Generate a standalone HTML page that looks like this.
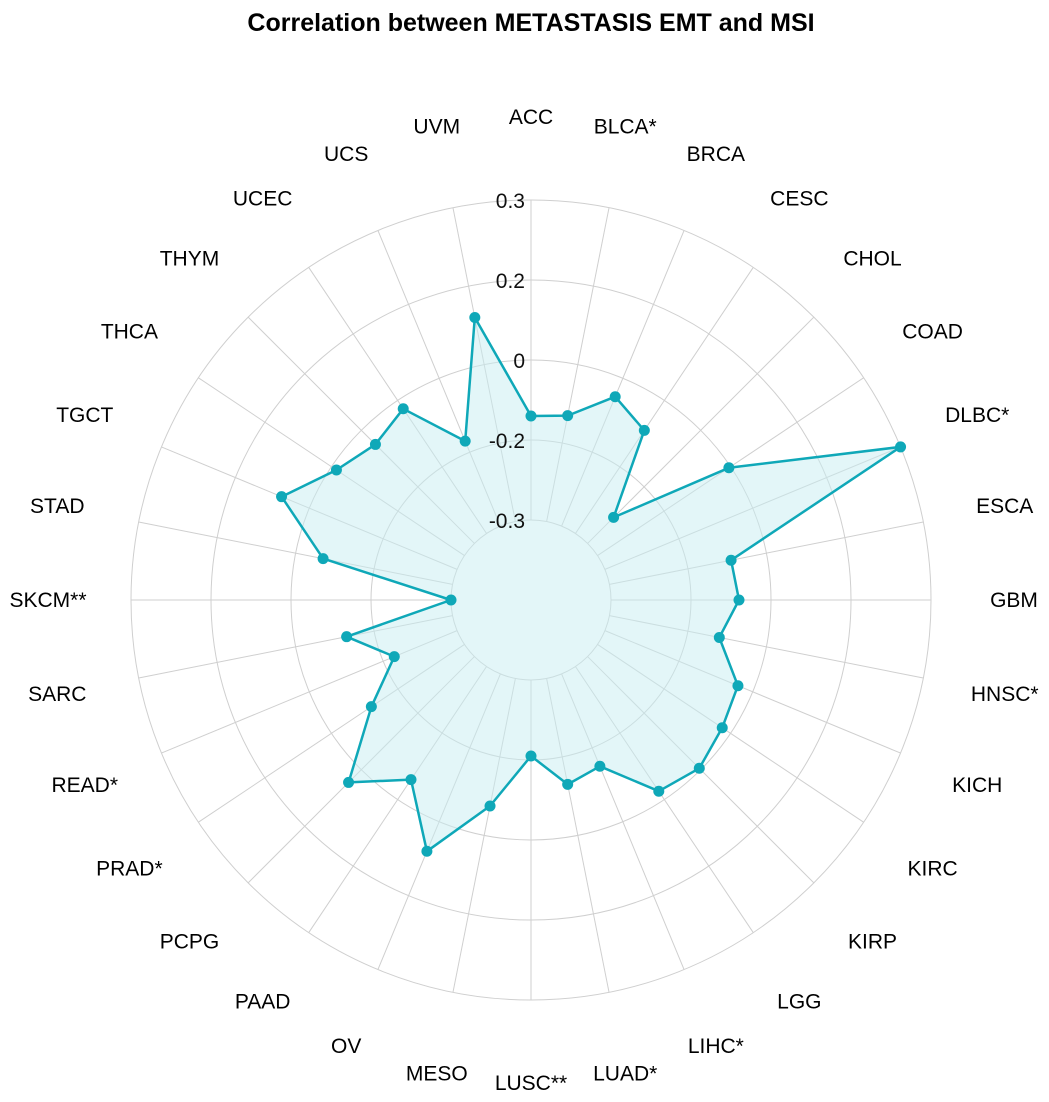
<!DOCTYPE html>
<html><head><meta charset="utf-8"><style>
body{margin:0;background:#fff;}
svg{display:block;font-family:"Liberation Sans",Arial,sans-serif;}
</style></head><body>
<svg id="chart" width="1049" height="1102" viewBox="0 0 1049 1102">
<text x="531" y="31" text-anchor="middle" font-size="25" font-weight="bold">Correlation between METASTASIS EMT and MSI</text>
<g id="grid"></g><g id="series"></g><g id="labels"></g><g id="ticks"></g>
</svg>
<script>
const categories=["ACC","BLCA*","BRCA","CESC","CHOL","COAD","DLBC*","ESCA","GBM","HNSC*","KICH","KIRC","KIRP","LGG","LIHC*","LUAD*","LUSC**","MESO","OV","PAAD","PCPG","PRAD*","READ*","SARC","SKCM**","STAD","TGCT","THCA","THYM","UCEC","UCS","UVM"];
const values=[-0.14,-0.13,-0.05,-0.09,-0.254,-0.005,0.30,-0.09,-0.08,-0.12,-0.04,-0.025,-0.005,-0.025,-0.15,-0.13,-0.205,-0.075,0.08,-0.06,0.045,-0.12,-0.215,-0.13,-0.3,-0.07,0.075,-0.015,-0.05,-0.025,-0.17,0.12];
const tickValues=[-0.3,-0.2,0,0.2,0.3];
const tickLabels=["-0.3","-0.2","0","0.2","0.3"];
const cx=531,cy=600;
const tickRadii=[80,160,240,320,400];
function rScale(v){
  if(v<=tickValues[0]) return tickRadii[0]+(v-tickValues[0])/(tickValues[1]-tickValues[0])*(tickRadii[1]-tickRadii[0]);
  for(let i=0;i<tickValues.length-1;i++){
    if(v<=tickValues[i+1]) return tickRadii[i]+(v-tickValues[i])/(tickValues[i+1]-tickValues[i])*(tickRadii[i+1]-tickRadii[i]);
  }
  const n=tickValues.length-1;
  return tickRadii[n]+(v-tickValues[n])/(tickValues[n]-tickValues[n-1])*(tickRadii[n]-tickRadii[n-1]);
}
function ang(i){return i/categories.length*2*Math.PI;}
function pt(i,r){return [cx+r*Math.sin(ang(i)),cy-r*Math.cos(ang(i))];}
const NS="http://www.w3.org/2000/svg";
function mk(tag,attrs,parent){const e=document.createElementNS(NS,tag);for(const k in attrs)e.setAttribute(k,attrs[k]);parent.appendChild(e);return e;}
const grid=document.getElementById('grid');
tickValues.forEach((t,k)=>{
  const c=mk('circle',{cx:cx,cy:cy,r:rScale(t),fill:'none',stroke:'#cfcfcf','stroke-width':1},grid);
  
  
});
categories.forEach((c,i)=>{
  const a=pt(i,rScale(tickValues[0])),b=pt(i,rScale(tickValues[tickValues.length-1]));
  const l=mk('line',{x1:a[0],y1:a[1],x2:b[0],y2:b[1],stroke:'#cfcfcf','stroke-width':1},grid);
  
  
  const p=pt(i,483);
  const t=mk('text',{x:p[0],y:p[1]+7,'text-anchor':'middle','font-size':21,fill:'#000'},document.getElementById('labels'));
  t.textContent=c;
  
  
});
const ser=document.getElementById('series');
const pts=values.map((v,i)=>pt(i,rScale(v)));
const d=pts.map(p=>p[0].toFixed(1)+','+p[1].toFixed(1)).join(' ');
const area=mk('polygon',{points:d,fill:'#c8eef2','fill-opacity':0.5,stroke:'none'},ser);


const line=mk('polygon',{points:d,fill:'none',stroke:'#0fa8b8','stroke-width':2.5,'stroke-linejoin':'round'},ser);


pts.forEach(p=>{
  const c=mk('circle',{cx:p[0],cy:p[1],r:5.5,fill:'#0fa8b8'},ser);
  
  
});
const tk=document.getElementById('ticks');
tickValues.forEach((t,k)=>{
  const e=mk('text',{x:525,y:cy-rScale(t)+8,'text-anchor':'end','font-size':21,fill:'#111'},tk);
  e.textContent=tickLabels[k];
  
  
});
</script>
</body></html>
